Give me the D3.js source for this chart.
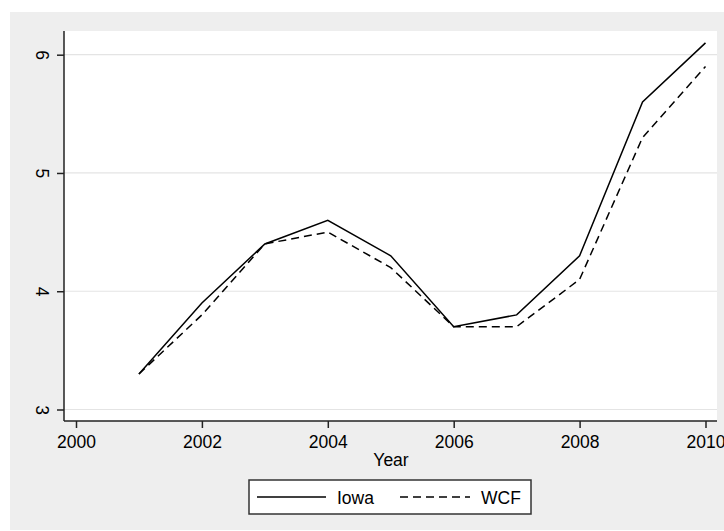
<!DOCTYPE html>
<html>
<head>
<meta charset="utf-8">
<script src="https://cdn.jsdelivr.net/npm/d3@7"></script>
<style>
  body { margin: 0; background: #fff; }
  text { font-family: "Liberation Sans", Arial, sans-serif; fill: #000; }
</style>
</head>
<body>
<div id="canvas"></div>
<script>
const width = 724;
const height = 531;

// data
const years = [2001, 2002, 2003, 2004, 2005, 2006, 2007, 2008, 2009, 2010];
const iowa = [3.3, 3.9, 4.4, 4.6, 4.3, 3.7, 3.8, 4.3, 5.6, 6.1];
const wcf = [3.3, 3.8, 4.4, 4.5, 4.2, 3.7, 3.7, 4.1, 5.3, 5.9];
const xTicks = [2000, 2002, 2004, 2006, 2008, 2010];
const yTicks = [3, 4, 5, 6];
const seriesNames = ["Iowa", "WCF"];

const plot = { left: 64, top: 31, right: 717, bottom: 421 };

const svg = d3.select("#canvas")
    .append("svg")
    .attr("width", width)
    .attr("height", height);

// outer grey background
svg.append("rect")
    .attr("x", 10).attr("y", 12)
    .attr("width", width - 10).attr("height", 518)
    .attr("fill", "#eeeeee");

// plot region
svg.append("rect")
    .attr("x", plot.left).attr("y", plot.top)
    .attr("width", plot.right - plot.left)
    .attr("height", plot.bottom - plot.top)
    .attr("fill", "#fff");

const x = d3.scaleLinear().domain([2000, 2010]).range([76, 705.5]);
const y = d3.scaleLinear().domain([3, 6]).range([409.5, 54.7]);

// grid lines
svg.append("g")
    .selectAll("line")
    .data(yTicks)
    .join("line")
    .attr("x1", plot.left).attr("x2", plot.right)
    .attr("y1", d => y(d)).attr("y2", d => y(d))
    .attr("stroke", "#e4e4e4")
    .attr("stroke-width", 1.2);

// y axis (labels turned clockwise, like the original)
const yAxis = svg.append("g")
    .attr("transform", `translate(${plot.left},0)`)
    .call(d3.axisLeft(y).tickValues(yTicks).tickSize(7).tickFormat(d3.format("d")));
yAxis.select(".domain").attr("d", `M0,${plot.top}V${plot.bottom}`);
yAxis.selectAll("text")
    .attr("x", null).attr("dy", null)
    .attr("text-anchor", "middle")
    .attr("transform", "translate(-28,0) rotate(90)")
    .attr("y", 0)
    .style("font-size", "17.5px");

// x axis
const xAxis = svg.append("g")
    .attr("transform", `translate(0,${plot.bottom})`)
    .call(d3.axisBottom(x).tickValues(xTicks).tickSize(7).tickFormat(d3.format("d")));
xAxis.select(".domain").attr("d", `M${plot.left},0H${plot.right}`);
xAxis.selectAll("text")
    .attr("dy", null)
    .attr("y", 27)
    .style("font-size", "17.5px");

svg.selectAll(".domain, .tick line")
    .attr("stroke", "#222")
    .attr("stroke-width", 1.5);

svg.append("text")
    .attr("x", 391).attr("y", 466)
    .attr("text-anchor", "middle")
    .style("font-size", "17.5px")
    .text("Year");

// lines
const line = d3.line()
    .x((d, i) => x(years[i]))
    .y(d => y(d));

svg.append("path")
    .datum(iowa)
    .attr("d", line)
    .attr("fill", "none")
    .attr("stroke", "#000")
    .attr("stroke-width", 1.5);

svg.append("path")
    .datum(wcf)
    .attr("d", line)
    .attr("fill", "none")
    .attr("stroke", "#000")
    .attr("stroke-width", 1.5)
    .attr("stroke-dasharray", "8,5");

// legend
const legend = svg.append("g");
legend.append("rect")
    .attr("x", 249).attr("y", 480)
    .attr("width", 282).attr("height", 34)
    .attr("fill", "#fff")
    .attr("stroke", "#333")
    .attr("stroke-width", 1.5);

const legendItems = [
    { name: seriesNames[0], x1: 257, x2: 326, tx: 337, dash: null },
    { name: seriesNames[1], x1: 400, x2: 470, tx: 481, dash: "8,5" }
];
legendItems.forEach(item => {
    legend.append("line")
        .attr("x1", item.x1).attr("x2", item.x2)
        .attr("y1", 497).attr("y2", 497)
        .attr("stroke", "#000")
        .attr("stroke-width", 1.5)
        .attr("stroke-dasharray", item.dash);
    legend.append("text")
        .attr("x", item.tx).attr("y", 504)
        .style("font-size", "17.5px")
        .text(item.name);
});
</script>
</body>
</html>
